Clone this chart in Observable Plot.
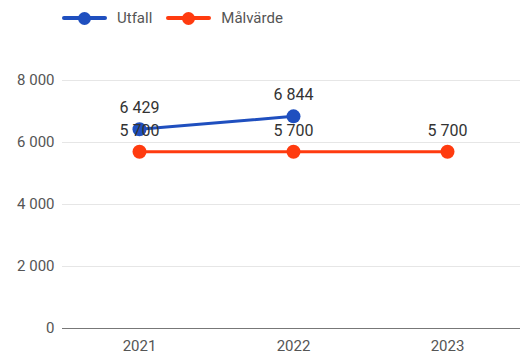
<!DOCTYPE html>
<html><head><meta charset="utf-8">
<script src="https://cdn.jsdelivr.net/npm/d3@7"></script>
<script src="https://cdn.jsdelivr.net/npm/@observablehq/plot@0.6"></script>
<style>
body{margin:0;background:#fff;font-family:Roboto,sans-serif;}
#wrap{position:relative;width:520px;height:356px;}
#legend{position:absolute;left:62px;top:9px;display:flex;align-items:center;font-size:15px;color:#555;}
.item{display:flex;align-items:center;margin-right:14px;}
.sw{position:relative;width:45px;height:4px;border-radius:2px;margin-right:10px;}
.sw i{position:absolute;left:16px;top:-4.5px;width:13px;height:13px;border-radius:50%;}
</style></head><body>
<div id="wrap"><div id="legend"></div><div id="chart"></div></div>
<script>
const years = ["2021","2022","2023"];
const utfall = [6429, 6844, null];
const malvarde = [5700, 5700, 5700];
const yTicks = [0, 2000, 4000, 6000, 8000];
const seriesNames = ["Utfall", "Målvärde"];
const colors = ["#1f4fbf", "#ff3b0f"];

const fmt = n => d3.format(",")(n).replace(/,/g, "\u00a0");
const rowsU = years.map((y,i)=>({year:y, value:utfall[i]})).filter(d=>d.value!=null);
const rowsM = years.map((y,i)=>({year:y, value:malvarde[i]}));

const legend = document.getElementById("legend");
seriesNames.forEach((n,i)=>{
  const it = document.createElement("div"); it.className="item";
  it.innerHTML = `<div class="sw" style="background:${colors[i]}"><i style="background:${colors[i]}"></i></div><span>${n}</span>`;
  legend.appendChild(it);
});

const chart = Plot.plot({
  width: 520, height: 356,
  marginTop: 80, marginBottom: 28, marginLeft: 62, marginRight: 0,
  style: {fontFamily: "Roboto, sans-serif", fontSize: "15px", color: "#444", background: "#fff"},
  x: {type: "point", domain: years, range: [62, 524], padding: 0.5, label: null},
  y: {domain: [0, 8000], label: null},
  marks: [
    Plot.ruleY(yTicks.filter(t=>t>0), {stroke: "#e6e6e6", strokeWidth: 1}),
    Plot.ruleY([0], {stroke: "#777", strokeWidth: 1}),
    Plot.axisY({ticks: yTicks, tickFormat: fmt, tickSize: 0, tickPadding: 8, fill: "#555", fontSize: 15}),
    Plot.axisX({tickSize: 0, tickPadding: 12, fill: "#555", fontSize: 15}),
    Plot.line(rowsU, {x: "year", y: "value", stroke: colors[0], strokeWidth: 3}),
    Plot.dot(rowsU, {x: "year", y: "value", fill: colors[0], r: 7}),
    Plot.line(rowsM, {x: "year", y: "value", stroke: colors[1], strokeWidth: 3}),
    Plot.dot(rowsM, {x: "year", y: "value", fill: colors[1], r: 7}),
    Plot.text(rowsU, {x: "year", y: "value", text: d=>fmt(d.value), dy: -21, fill: "#333", fontSize: 16}),
    Plot.text(rowsM, {x: "year", y: "value", text: d=>fmt(d.value), dy: -21, fill: "#333", fontSize: 16})
  ]
});
document.getElementById("chart").appendChild(chart);
</script>
</body></html>
